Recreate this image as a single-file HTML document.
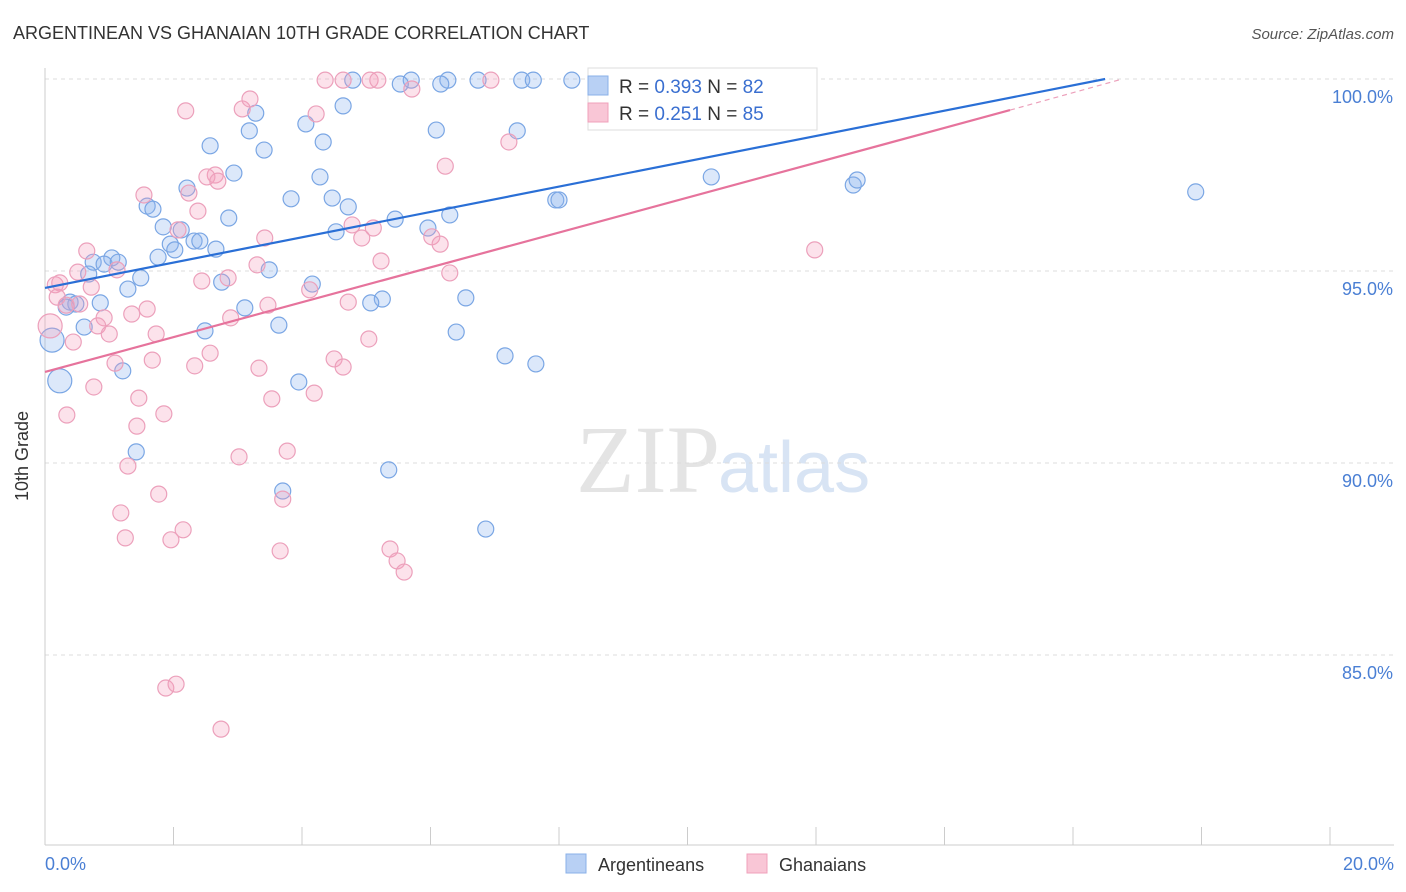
<!DOCTYPE html>
<html><head><meta charset="utf-8"><style>
body{margin:0;background:#fff;font-family:"Liberation Sans",sans-serif;}
svg{display:block}
</style></head><body>
<svg id="chart" width="1406" height="892">
<text x="13" y="39" font-size="18" fill="#333">ARGENTINEAN VS GHANAIAN 10TH GRADE CORRELATION CHART</text>
<text x="1394" y="39" font-size="15" fill="#555" font-style="italic" text-anchor="end">Source: ZipAtlas.com</text>
<text x="720" y="492" font-size="96" fill="#e4e4e4" text-anchor="end" font-family="Liberation Serif">ZIP</text>
<text x="718" y="492" font-size="72" fill="#d8e4f4">atlas</text>
<g id="grid"></g><g id="axes"></g><g id="pts"></g><g id="lines"></g>
<text x="28" y="456" font-size="18" fill="#333" transform="rotate(-90 28 456)" text-anchor="middle">10th Grade</text>
<text x="45" y="870" font-size="18" fill="#4a7fd4">0.0%</text>
<text x="1394" y="870" font-size="18" fill="#4a7fd4" text-anchor="end">20.0%</text>
<g>
<rect x="588" y="68" width="229" height="62" fill="#fff" stroke="#ddd"/>
<rect x="588" y="76" width="20" height="19" fill="#b8d0f4" stroke="#8ab0e8"/>
<rect x="588" y="103" width="20" height="19" fill="#f9c6d6" stroke="#f0a0bb"/>
<text x="619" y="93" font-size="19" fill="#333">R = <tspan fill="#3a6fd0">0.393</tspan>   N = <tspan fill="#3a6fd0">82</tspan></text>
<text x="619" y="120" font-size="19" fill="#333">R =  <tspan fill="#3a6fd0">0.251</tspan>   N = <tspan fill="#3a6fd0">85</tspan></text>
</g>
<g>
<rect x="566" y="854" width="20" height="19" fill="#b8d0f4" stroke="#8ab0e8"/>
<text x="598" y="871" font-size="18" fill="#333">Argentineans</text>
<rect x="747" y="854" width="20" height="19" fill="#f9c6d6" stroke="#f0a0bb"/>
<text x="779" y="871" font-size="18" fill="#333">Ghanaians</text>
</g>
</svg>
<script>
const yTicks=[100,95,90,85];
const yTickLabels=["100.0%","95.0%","90.0%","85.0%"];
const xTicks=[0,2,4,6,8,10,12,14,16,18,20];
const blueX=[0.11,0.23,4.79,5.70,6.27,6.74,7.42,7.60,8.20,9.06,9.49,5.53,6.16,4.64,3.28,3.18,4.06,6.09,7.35,2.57,3.41,4.33,2.94,4.28,2.21,10.37,12.58,12.64,17.91,3.83,4.47,4.72,7.95,8.00,1.59,1.68,2.86,5.45,6.30,1.84,2.12,5.96,4.53,1.95,2.32,2.41,2.02,2.66,1.76,0.75,1.04,0.92,1.14,0.68,3.49,1.49,1.29,4.16,2.75,6.55,0.39,0.86,0.48,0.33,5.25,5.07,3.11,2.49,3.64,0.61,6.40,7.16,7.64,1.21,3.95,1.42,5.35,3.70,6.86];
const blueY=[93.20,92.14,99.97,99.97,99.97,99.97,99.97,99.97,99.97,99.97,99.97,99.87,99.87,99.30,99.11,98.65,98.83,98.67,98.65,98.26,98.15,98.36,97.55,97.45,97.16,97.45,97.24,97.37,97.06,96.88,96.90,96.67,96.85,96.85,96.69,96.61,96.38,96.35,96.46,96.15,96.07,96.12,96.02,95.70,95.78,95.78,95.55,95.57,95.36,95.23,95.34,95.18,95.23,94.92,95.03,94.82,94.53,94.66,94.71,94.30,94.19,94.17,94.14,94.06,94.27,94.17,94.04,93.44,93.59,93.54,93.41,92.79,92.58,92.40,92.11,90.29,89.82,89.27,88.28];
const pinkX=[4.36,4.64,5.06,5.18,6.94,5.71,2.19,3.07,3.19,4.22,7.22,6.23,2.65,2.52,2.69,1.54,2.24,2.38,2.07,4.78,5.11,6.02,6.15,4.93,3.42,11.98,0.65,5.23,3.30,0.16,0.23,0.51,1.12,0.72,2.85,2.44,0.19,0.33,0.54,6.30,4.12,4.72,3.47,1.59,0.92,1.35,2.89,0.82,1.73,1.00,0.08,0.44,5.04,2.57,4.50,1.67,1.09,2.33,4.64,3.33,0.76,4.19,1.46,3.53,1.43,1.85,0.34,3.02,3.77,1.29,1.77,3.70,1.18,2.15,1.25,1.96,3.66,5.37,5.48,5.59,1.88,2.04,2.74];
const pinkY=[99.97,99.97,99.97,99.97,99.97,99.74,99.17,99.22,99.48,99.09,98.36,97.73,97.50,97.45,97.34,96.98,97.03,96.56,96.07,96.20,96.12,95.89,95.70,95.86,95.86,95.55,95.52,95.26,95.16,94.64,94.69,94.97,95.03,94.58,94.82,94.74,94.32,94.11,94.14,94.95,94.51,94.19,94.11,94.01,93.78,93.88,93.78,93.57,93.36,93.36,93.57,93.15,93.23,92.86,92.71,92.68,92.60,92.53,92.50,92.47,91.98,91.82,91.69,91.67,90.96,91.28,91.25,90.16,90.31,89.92,89.19,89.06,88.70,88.26,88.05,88.00,87.71,87.76,87.45,87.16,84.14,84.24,83.07];
const blueBig=[0,1];
const blueLine=[[0,94.56],[16.5,100]];
const pinkLine=[[0,92.37],[15.02,99.19]];
const pinkDash=[[15.02,99.19],[16.77,100]];
const NS="http://www.w3.org/2000/svg";
const X=v=>45+v*64.25;
const Y=v=>79+(100-v)*38.4;
function mk(tag,parent,attrs){const e=document.createElementNS(NS,tag);for(const k in attrs)e.setAttribute(k,attrs[k]);document.getElementById(parent).appendChild(e);return e;}
yTicks.forEach((t,i)=>{
 const l=mk('line','grid',{x1:45,x2:1394,y1:Y(t),y2:Y(t),stroke:'#ddd','stroke-dasharray':'4,4'});
 
 
 const tx=mk('text','grid',{x:1393,y:Y(t)+24,'font-size':18,fill:'#4a7fd4','text-anchor':'end'});
 tx.textContent=yTickLabels[i];
 
 
});
const ax=mk('line','axes',{x1:45,x2:45,y1:68,y2:845,stroke:'#ccc'});


const bx=mk('line','axes',{x1:45,x2:1394,y1:845,y2:845,stroke:'#ccc'});


xTicks.forEach(t=>{
 const l=mk('line','axes',{x1:X(t),x2:X(t),y1:827,y2:845,stroke:'#ccc'});
 
 
});
blueX.forEach((x,i)=>{
 const c=mk('circle','pts',{cx:X(x),cy:Y(blueY[i]),r:blueBig.includes(i)?12:8,fill:'rgba(140,180,240,0.3)',stroke:'#7aa6e4','stroke-width':1.2});
 
 
});
pinkX.forEach((x,i)=>{
 const c=mk('circle','pts',{cx:X(x),cy:Y(pinkY[i]),r:i==50?12:8,fill:'rgba(245,160,190,0.3)',stroke:'#eca0bb','stroke-width':1.2});
 
 
});
const bl=mk('line','lines',{x1:X(blueLine[0][0]),y1:Y(blueLine[0][1]),x2:X(blueLine[1][0]),y2:Y(blueLine[1][1]),stroke:'#2a6fd6','stroke-width':2.2});


const pl=mk('line','lines',{x1:X(pinkLine[0][0]),y1:Y(pinkLine[0][1]),x2:X(pinkLine[1][0]),y2:Y(pinkLine[1][1]),stroke:'#e6739c','stroke-width':2.2});


const pd=mk('line','lines',{x1:X(pinkDash[0][0]),y1:Y(pinkDash[0][1]),x2:X(pinkDash[1][0]),y2:Y(pinkDash[1][1]),stroke:'#eca0bb','stroke-width':1.2,'stroke-dasharray':'5,4'});


</script>
</body></html>
